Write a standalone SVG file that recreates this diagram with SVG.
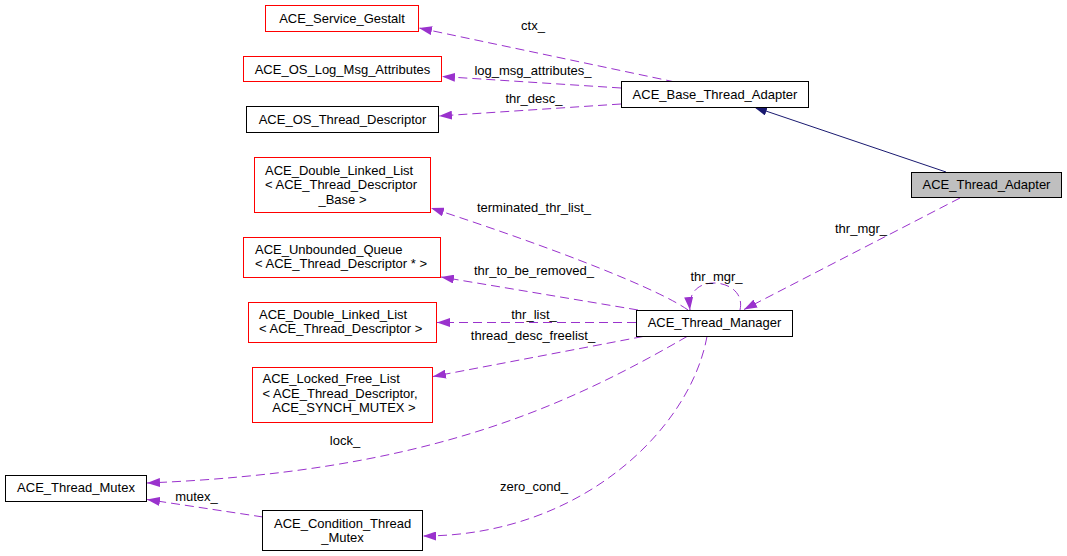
<svg xmlns="http://www.w3.org/2000/svg" width="1067" height="556" viewBox="0 0 1067 556">
<style>
text{font-family:"Liberation Sans",Arial,Helvetica,sans-serif;font-size:13px;fill:#000}
.m{text-anchor:middle}
.node rect{fill:#fff;stroke:#000;stroke-width:1}
.node.red rect{stroke:#ff0000}
.node.cur rect{fill:#bfbfbf}
.e{fill:none;stroke:#9a32cd;stroke-width:1;stroke-dasharray:9,5;marker-end:url(#ah)}
.inh{fill:none;stroke:#191970;stroke-width:1;marker-end:url(#ih)}
</style>
<defs>
<marker id="ah" markerUnits="userSpaceOnUse" viewBox="0 0 13 9" refX="13" refY="4.5" markerWidth="13" markerHeight="9" orient="auto"><path d="M0,0 L13,4.5 L0,9 z" fill="#9a32cd"/></marker>
<marker id="ih" markerUnits="userSpaceOnUse" viewBox="0 0 13 9" refX="13" refY="4.5" markerWidth="13" markerHeight="9" orient="auto"><path d="M0,0 L13,4.5 L0,9 z" fill="#191970"/></marker>
</defs>
<rect width="1067" height="556" fill="#fff"/>
<g id="connectors">
<path class="inh" d="M946,172 L754,107"/>
<path class="e" d="M675,82 L419,28"/>
<path class="e" d="M621,88 L442,76.5"/>
<path class="e" d="M621,104 L439,116"/>
<path class="e" d="M960,198 L744,309.5"/>
<path class="e" d="M740,310 C744,292 728,283 714,283 C700,283 688,291 690,310"/>
<path class="e" d="M688,310 C660,290 560,250 431,208"/>
<path class="e" d="M638,310 L441,277"/>
<path class="e" d="M636,322.5 L437,322.5"/>
<path class="e" d="M643,336.5 L433,376.5"/>
<path class="e" d="M687,336.5 C560,410 420,472 147,483"/>
<path class="e" d="M707,336.5 C690,430 580,536 423,536"/>
<path class="e" d="M263,517 L147,499.5"/>
<text class="m" x="533" y="30">ctx_</text>
<text class="m" x="533" y="74.5">log_msg_attributes_</text>
<text class="m" x="534" y="103">thr_desc_</text>
<text class="m" x="861" y="232.5">thr_mgr_</text>
<text class="m" x="716.5" y="281">thr_mgr_</text>
<text class="m" x="534" y="212">terminated_thr_list_</text>
<text class="m" x="534" y="275">thr_to_be_removed_</text>
<text class="m" x="534" y="319">thr_list_</text>
<text class="m" x="533" y="340">thread_desc_freelist_</text>
<text class="m" x="345" y="445">lock_</text>
<text class="m" x="534" y="491">zero_cond_</text>
<text class="m" x="196.5" y="500.5">mutex_</text>
</g>
<g id="ACE_Service_Gestalt" class="node red"><rect x="265.5" y="5.5" width="153" height="26"/><text class="m" x="342" y="22.5">ACE_Service_Gestalt</text></g>
<g id="ACE_OS_Log_Msg_Attributes" class="node red"><rect x="243.5" y="56.5" width="198" height="25"/><text class="m" x="342.5" y="73.5">ACE_OS_Log_Msg_Attributes</text></g>
<g id="ACE_OS_Thread_Descriptor" class="node"><rect x="246.5" y="106.5" width="192" height="26"/><text class="m" x="342.5" y="123.5">ACE_OS_Thread_Descriptor</text></g>
<g id="ACE_Base_Thread_Adapter" class="node"><rect x="621.5" y="81.5" width="187" height="26"/><text class="m" x="715" y="98.5">ACE_Base_Thread_Adapter</text></g>
<g id="ACE_Thread_Adapter" class="node cur"><rect x="911.5" y="172.5" width="150" height="25"/><text class="m" x="986.5" y="189">ACE_Thread_Adapter</text></g>
<g id="ACE_Double_Linked_List_Base" class="node red"><rect x="254.5" y="157.5" width="176" height="55"/><text x="265" y="174.5">ACE_Double_Linked_List</text><text x="265" y="189">&lt; ACE_Thread_Descriptor</text><text class="m" x="342.5" y="203.5">_Base &gt;</text></g>
<g id="ACE_Unbounded_Queue" class="node red"><rect x="243.5" y="237.5" width="197" height="40"/><text x="255" y="254">ACE_Unbounded_Queue</text><text x="255" y="268">&lt; ACE_Thread_Descriptor * &gt;</text></g>
<g id="ACE_Double_Linked_List" class="node red"><rect x="248.5" y="302.5" width="188" height="40"/><text x="259" y="319">ACE_Double_Linked_List</text><text x="259" y="333">&lt; ACE_Thread_Descriptor &gt;</text></g>
<g id="ACE_Locked_Free_List" class="node red"><rect x="252.5" y="367.5" width="180" height="55"/><text x="262.5" y="383">ACE_Locked_Free_List</text><text x="262.5" y="397.5">&lt; ACE_Thread_Descriptor,</text><text class="m" x="344" y="412">ACE_SYNCH_MUTEX &gt;</text></g>
<g id="ACE_Thread_Manager" class="node"><rect x="636.5" y="310.5" width="156" height="26"/><text class="m" x="714.5" y="327">ACE_Thread_Manager</text></g>
<g id="ACE_Thread_Mutex" class="node"><rect x="5.5" y="475.5" width="141" height="26"/><text class="m" x="76" y="491.5">ACE_Thread_Mutex</text></g>
<g id="ACE_Condition_Thread_Mutex" class="node"><rect x="262.5" y="510.5" width="160" height="40"/><text x="274" y="527.5">ACE_Condition_Thread</text><text class="m" x="342.5" y="541.5">_Mutex</text></g>
</svg>
